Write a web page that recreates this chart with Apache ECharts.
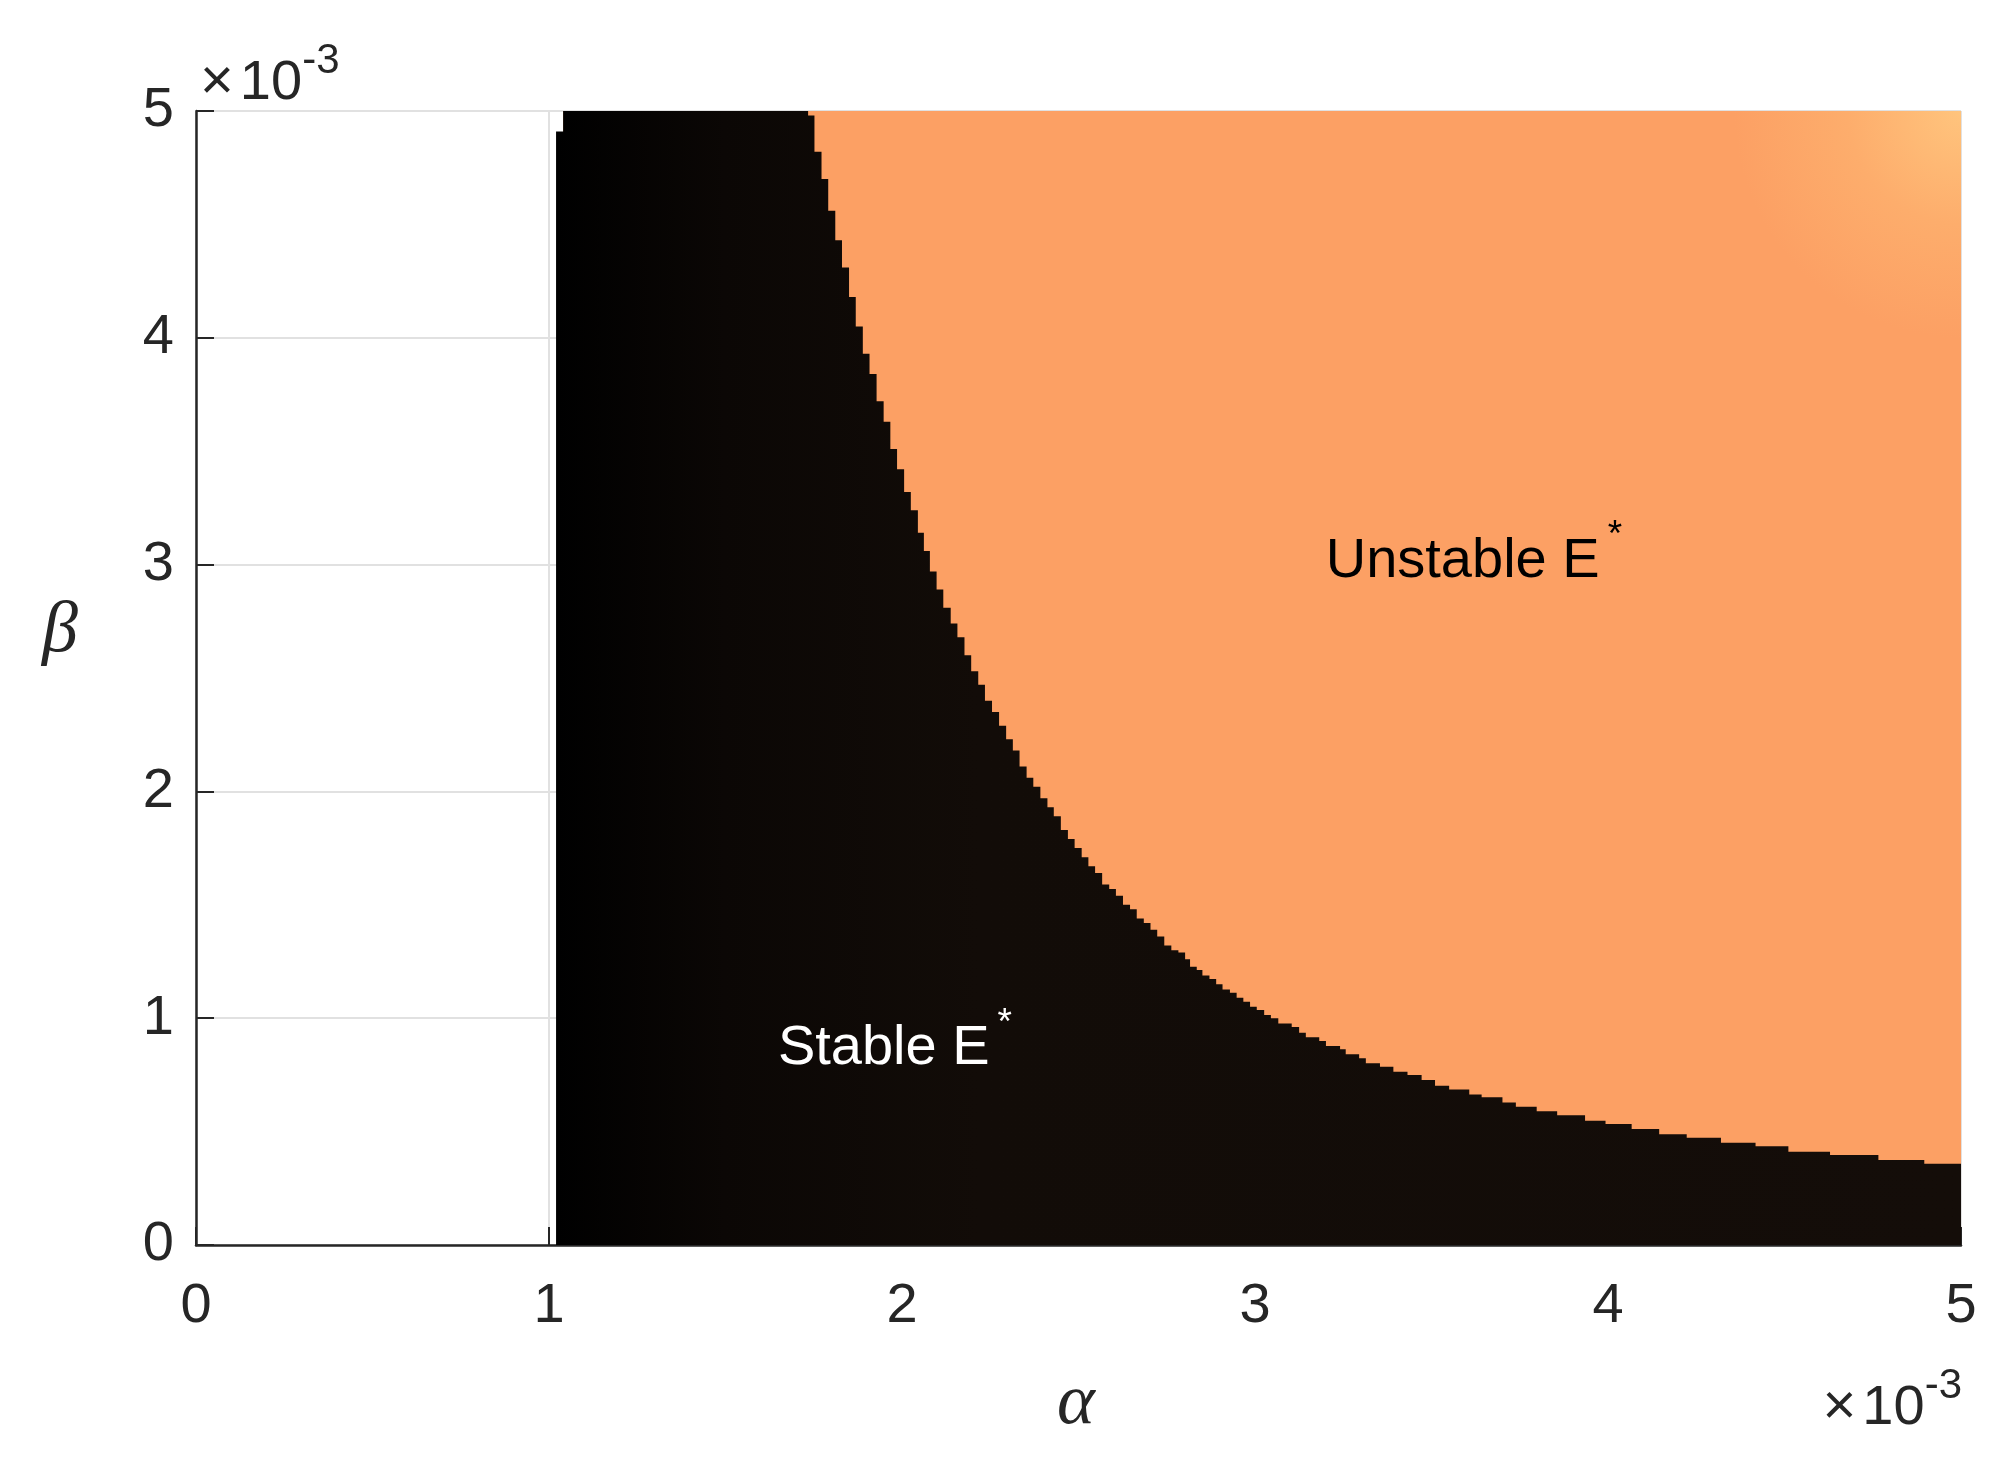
<!DOCTYPE html>
<html>
<head>
<meta charset="utf-8">
<script src="https://cdn.jsdelivr.net/npm/echarts@6/dist/echarts.min.js"></script>
<style>
  html, body { margin: 0; padding: 0; background: #fff; }
  #main { width: 2005px; height: 1467px; }
</style>
</head>
<body>
<div id="main"></div>
<script>
// axes (values in units of 1e-3)
const axisTicks = [0, 1, 2, 3, 4, 5];
const unstableStart = 1.04;   // left edge of the orange region
const betaMax = 5;

// upper edge of the stable region: [alpha where a step starts, beta]
const edgeSteep = [[1.020,4.91],[1.040,5.00],[1.734,4.98],[1.752,4.82],[1.772,4.70],[1.791,4.56],
  [1.811,4.43],[1.830,4.31],[1.850,4.18],[1.869,4.05],[1.889,3.93],[1.908,3.84],[1.928,3.72],
  [1.948,3.63],[1.967,3.51],[1.986,3.42],[2.006,3.32],[2.025,3.24],[2.045,3.14],[2.062,3.06],
  [2.079,2.97],[2.098,2.89],[2.117,2.81],[2.138,2.74],[2.157,2.68],[2.177,2.60],[2.196,2.53],
  [2.216,2.47],[2.235,2.40],[2.255,2.35],[2.275,2.29],[2.295,2.23],[2.314,2.18],[2.333,2.11],
  [2.353,2.06],[2.372,2.02],[2.392,1.97],[2.412,1.93],[2.430,1.89],[2.450,1.83],[2.470,1.79],
  [2.489,1.75],[2.509,1.71],[2.528,1.67],[2.547,1.64],[2.567,1.59],[2.587,1.57],[2.606,1.54],
  [2.626,1.50],[2.646,1.48],[2.665,1.44],[2.685,1.42],[2.704,1.39],[2.723,1.36],[2.743,1.32],
  [2.763,1.30],[2.783,1.29],[2.802,1.26]];
const edgeKnee = [[2.816,1.227],[2.835,1.213],[2.851,1.188],[2.871,1.173],[2.890,1.150],[2.908,1.127],
  [2.929,1.112],[2.948,1.090],[2.967,1.073],[2.986,1.051],[3.005,1.036],[3.026,1.014],[3.045,1.000],
  [3.066,0.977],[3.104,0.961],[3.125,0.936],[3.144,0.916],[3.182,0.899],[3.201,0.877],[3.241,0.863],
  [3.257,0.841],[3.295,0.823],[3.314,0.801],[3.354,0.786],[3.392,0.764],[3.432,0.750],[3.472,0.728],
  [3.510,0.702],[3.550,0.686],[3.607,0.664],[3.642,0.651],[3.701,0.628],[3.739,0.610],[3.798,0.590]];
const edgeTail = [[3.856,0.572],[3.935,0.548],[3.993,0.534],[4.067,0.511],[4.145,0.488],[4.223,0.473],
  [4.320,0.451],[4.418,0.435],[4.511,0.411],[4.629,0.397],[4.766,0.375],[4.896,0.358],[5.000,0.358]];

// region labels, anchored at their centre in data units
const notes = [
  { label: 'Unstable E', at: [3.62, 3.05], fill: '#000000' },
  { label: 'Stable E', at: [1.98, 0.90], fill: '#ffffff' }
];

const W = 2005, H = 1467;
const grid = { left: 196, top: 111, right: 44, bottom: 222 };
const ink = '#262626';
const sans = '"Liberation Sans", Arial, sans-serif';
const serif = '"Liberation Serif", "Times New Roman", serif';

var chart = echarts.init(document.getElementById('main'));

function axis() {
  return {
    type: 'value', min: axisTicks[0], max: axisTicks[axisTicks.length - 1], interval: 1,
    axisLine: { show: true, lineStyle: { color: ink, width: 2.5 } },
    axisTick: { show: true, inside: true, length: 18, lineStyle: { color: ink, width: 2 } },
    splitLine: { show: true, lineStyle: { color: '#e1e1e1', width: 2 } },
    axisLabel: { fontSize: 56, fontFamily: sans, color: ink }
  };
}

var xAxis = axis();
xAxis.axisLabel.margin = 34;
var yAxis = axis();
yAxis.axisLabel.margin = 22;

chart.setOption({
  animation: false,
  grid: grid,
  xAxis: xAxis,
  yAxis: yAxis,
  series: [
    {
      type: 'line', silent: true, symbol: 'none', z: 1,
      data: [[unstableStart, betaMax], [axisTicks[axisTicks.length - 1], betaMax]],
      lineStyle: { width: 0, opacity: 0 },
      areaStyle: {
        opacity: 1,
        color: new echarts.graphic.RadialGradient(1, 0, 0.2, [
          { offset: 0, color: '#ffc47d' },
          { offset: 0.5, color: '#fdad6c' },
          { offset: 1, color: '#fca064' }
        ])
      }
    },
    {
      type: 'line', silent: true, symbol: 'none', step: 'end', z: 2,
      data: edgeSteep.concat(edgeKnee, edgeTail),
      lineStyle: { width: 0, opacity: 0 },
      areaStyle: {
        opacity: 1,
        color: new echarts.graphic.LinearGradient(0, 0, 1, 0, [
          { offset: 0, color: '#000000' },
          { offset: 0.12, color: '#0b0705' },
          { offset: 0.3, color: '#120c08' },
          { offset: 1, color: '#140d09' }
        ])
      }
    }
  ]
});

// data -> pixel, through the chart's own axes (linear fallback if not ready)
function toPixel(pt) {
  var p = chart.convertToPixel({ xAxisIndex: 0, yAxisIndex: 0 }, pt);
  if (!p || !isFinite(p[0]) || !isFinite(p[1])) {
    var span = axisTicks[axisTicks.length - 1] - axisTicks[0];
    var pw = W - grid.left - grid.right, ph = H - grid.top - grid.bottom;
    p = [grid.left + (pt[0] - axisTicks[0]) / span * pw,
         H - grid.bottom - (pt[1] - axisTicks[0]) / span * ph];
  }
  return p;
}

// "×10^-3" exponent markers
var expRich = {
  x: { fontSize: 58, fontFamily: sans, fill: ink, lineHeight: 72, verticalAlign: 'bottom', padding: [0, 6, 0, 0] },
  m: { fontSize: 56, fontFamily: sans, fill: ink, lineHeight: 72, verticalAlign: 'bottom' },
  s: { fontSize: 42, fontFamily: sans, fill: ink, lineHeight: 26, verticalAlign: 'top' }
};
var graphics = [
  { type: 'text', x: grid.left + 4, y: grid.top - 71,
    style: { text: '{x|×}{m|10}{s|-3}', rich: expRich, align: 'left', verticalAlign: 'top' } },
  { type: 'text', x: W - grid.right + 1, y: H - grid.bottom + 120,
    style: { text: '{x|×}{m|10}{s|-3}', rich: expRich, align: 'right', verticalAlign: 'top' } },
  { type: 'text', x: 1076, y: 1404,
    style: { text: 'α', font: 'italic 72px ' + serif, fill: ink, align: 'center', verticalAlign: 'middle' } },
  { type: 'text', x: 60, y: 632,
    style: { text: 'β', font: 'italic 72px ' + serif, fill: ink, align: 'center', verticalAlign: 'middle' } }
];

notes.forEach(function (n) {
  var p = toPixel(n.at);
  graphics.push({
    type: 'text', x: p[0], y: p[1], silent: true, z: 100,
    style: {
      text: '{m|' + n.label + '}{s|*}', align: 'center', verticalAlign: 'middle',
      rich: {
        m: { fontSize: 56, fontFamily: sans, fill: n.fill, lineHeight: 72, verticalAlign: 'bottom' },
        s: { fontSize: 37, fontFamily: sans, fill: n.fill, lineHeight: 28, verticalAlign: 'top', padding: [0, 0, 0, 8] }
      }
    }
  });
});

chart.setOption({ graphic: graphics });
</script>
</body>
</html>
